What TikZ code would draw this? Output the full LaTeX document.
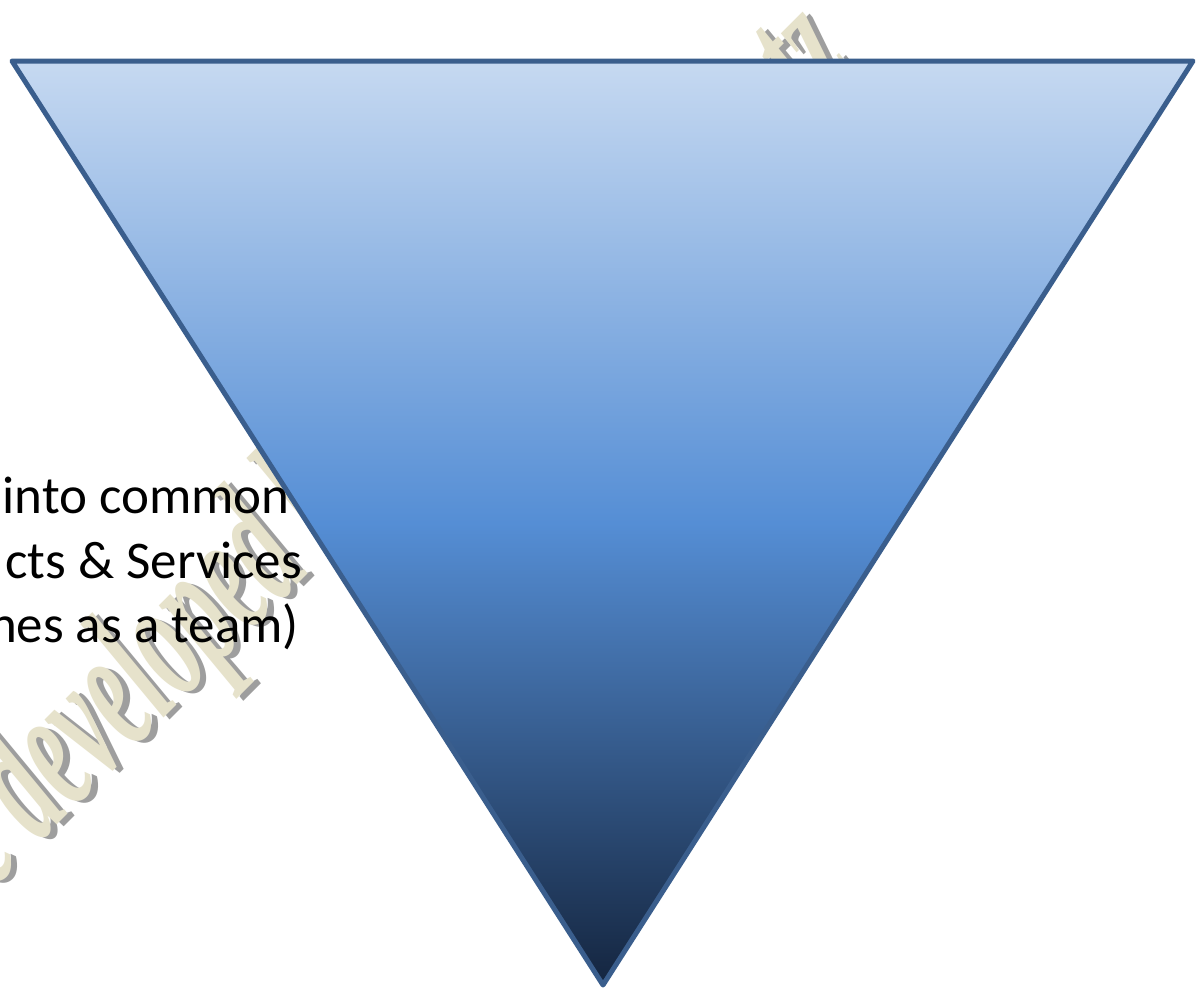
\documentclass[tikz,border=0pt]{standalone}
\usepackage{fontspec}
\setmainfont{Carlito}
\newfontfamily\wmfont{Liberation Serif}
\usetikzlibrary{positioning}

\definecolor{tritop}{HTML}{C6D9F1}
\definecolor{trimid}{HTML}{558ED5}
\definecolor{tribot}{HTML}{14253F}
\definecolor{triedge}{HTML}{3A5E8D}
\definecolor{wmcream}{HTML}{E6E2CB}
\definecolor{wmshadow}{HTML}{9E9E9E}

\tikzset{
  wmark/.style={font=\wmfont\bfseries\itshape\fontsize{180}{180}\selectfont,
    rotate=45, xscale=0.53, inner sep=0pt},
  bodytext/.style={font=\fontsize{53}{64}\selectfont, inner sep=0pt, anchor=base east}
}

\begin{document}
\begin{tikzpicture}[x=1pt,y=-1pt]

		\clip (0,0) rectangle (1202,994);
		\fill[white] (0,0) rectangle (1202,994);
		
		% watermark (grey shadow first, cream on top)
		\coordinate (W1) at (-8,890);
		\coordinate (W2) at (862,70);
		\foreach \c/\d in {wmshadow/6,wmcream/0} {
			\node[wmark,anchor=base west,text=\c,xshift=\d,yshift=-\d] (wa) at (W1) {e developed b};
			\node[wmark,anchor=base east,text=\c,xshift=\d,yshift=-\d] (wb) at (W2) {tz};
		}
		
		\coordinate (A) at (12,61);
		\coordinate (B) at (1193,61);
		\coordinate (C) at (603,985);
		
		\shade[top color=tritop,bottom color=tribot,middle color=trimid] (A)--(B)--(C)--cycle;
		\draw[triedge,line width=5pt,line join=round] (A)--(B)--(C)--cycle;
		
		\node[bodytext] (l1) at (290,513) {into common};
		\node[bodytext] (l2) at (302,578) {cts \& Services};
		\node[bodytext] (l3) at (299,642) {nes as a team)};
		
	\end{tikzpicture}
\end{document}
